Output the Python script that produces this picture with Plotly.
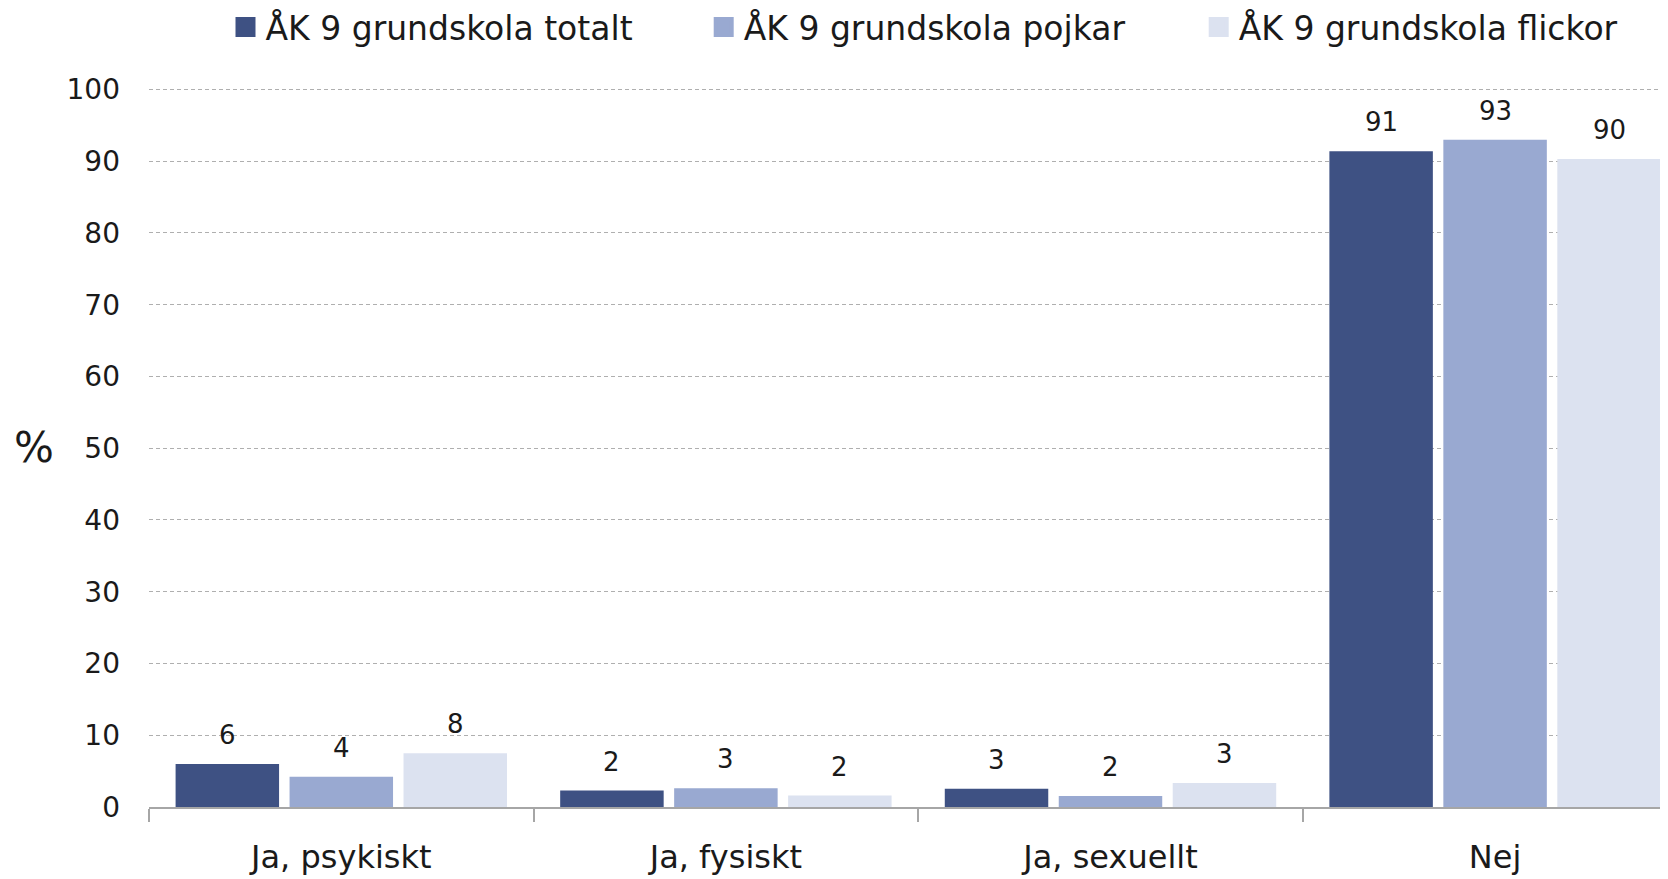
import plotly.graph_objects as go

categories = ["Ja, psykiskt", "Ja, fysiskt", "Ja, sexuellt", "Nej"]
series_names = ["ÅK 9 grundskola totalt", "ÅK 9 grundskola pojkar", "ÅK 9 grundskola flickor"]
totalt = [6.0, 2.3, 2.55, 91.4]
pojkar = [4.2, 2.6, 1.55, 93.0]
flickor = [7.5, 1.6, 3.35, 90.3]
y_ticks = [0, 10, 20, 30, 40, 50, 60, 70, 80, 90, 100]

colors = ["#3E5183", "#99A9D1", "#DCE2F0"]
series_values = [totalt, pojkar, flickor]

FONT = "DejaVu Sans"
OFF = 8  # default body margin of the html page
W, H = 1668 - OFF, 879 - OFF
ML, MR, MT, MB = 149 - OFF, 0, 80, 71.7
plot_w = W - ML - MR
range_end = 3.4496
cat_w = plot_w / (range_end + 0.5)
bargap = 0.111
slot = cat_w * (1 - bargap) / 3

fig = go.Figure()
legend_ids = ["legend", "legend2", "legend3"]
legend_x = [245.5, 723.7, 1218.7]  # page x of swatch centres

for i, (name, vals, col) in enumerate(zip(series_names, series_values, colors)):
    fig.add_trace(go.Bar(
        x=categories, y=vals, name=name, marker=dict(color=col, line=dict(width=0)),
        showlegend=False, hoverinfo="x+y",
    ))
    fig.add_trace(go.Scatter(
        x=[None], y=[None], mode="markers", name=name,
        marker=dict(symbol="square", size=16, color=col, line=dict(color=col, width=4)),
        legend=legend_ids[i], showlegend=True,
    ))
    for j, (c, v) in enumerate(zip(categories, vals)):
        fig.add_annotation(
            x=c, y=v, xref="x", yref="y", text=f"{v:.0f}", showarrow=False,
            xshift=(i - 1) * slot, yshift=12, yanchor="bottom", xanchor="center",
            font=dict(family=FONT, size=26, color="#1a1a1a"),
        )

fig.add_annotation(
    text="%", xref="paper", yref="paper", x=(34 - OFF - ML) / plot_w, y=0.5,
    xanchor="center", yanchor="middle", showarrow=False,
    font=dict(family=FONT, size=42, color="#1a1a1a"),
)

legend_common = dict(
    orientation="h", xref="container", yref="container", xanchor="left", yanchor="middle",
    font=dict(family=FONT, size=33, color="#1a1a1a"), bgcolor="rgba(0,0,0,0)",
    itemsizing="trace",
)
layout_legends = {}
for lid, lx in zip(legend_ids, legend_x):
    layout_legends[lid] = dict(legend_common, x=(lx - OFF - 20) / W, y=1 - (27 - OFF) / H)

fig.update_layout(
    width=W, height=H,
    margin=dict(l=ML, r=MR, t=MT, b=MB, autoexpand=False),
    paper_bgcolor="white", plot_bgcolor="white",
    barmode="group", bargap=bargap, bargroupgap=0.092,
    font=dict(family=FONT, color="#1a1a1a"),
    xaxis=dict(
        type="category", range=[-0.5, range_end], tickson="boundaries",
        ticks="outside", ticklen=13, tickwidth=1.5, tickcolor="#A6A6A6",
        showline=True, linecolor="#A6A6A6", linewidth=2, showgrid=False,
        tickfont=dict(family=FONT, size=32, color="#1a1a1a"), ticklabelstandoff=21,
    ),
    yaxis=dict(
        range=[0, 100.2], tickvals=y_ticks, showgrid=True, gridcolor="#AFAFAF",
        gridwidth=1, griddash="4px,3px", zeroline=False, showline=False,
        tickfont=dict(family=FONT, size=28, color="#1a1a1a"), ticklabelstandoff=28,
    ),
    **layout_legends,
)

fig.write_html("out.html")
